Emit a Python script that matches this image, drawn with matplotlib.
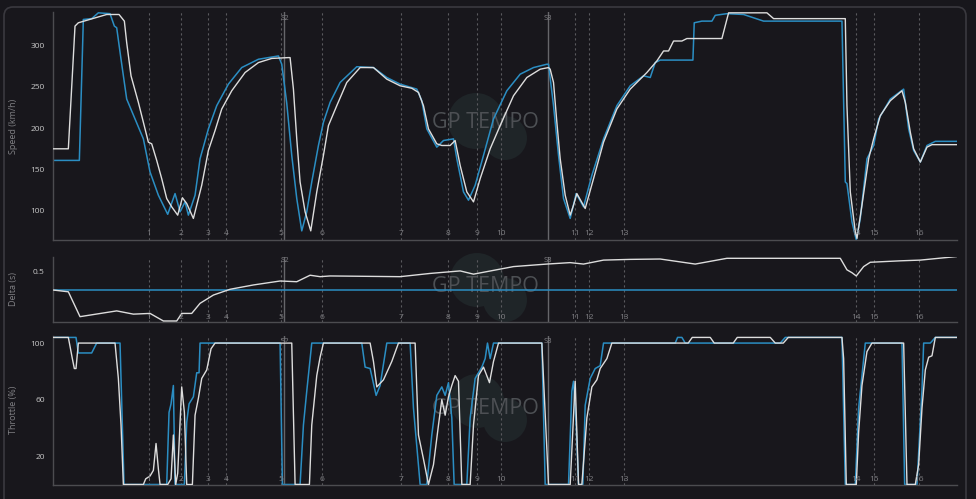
import matplotlib
matplotlib.use('Agg')
import matplotlib.pyplot as plt
import matplotlib.transforms as mtransforms
from matplotlib.patches import Circle, FancyBboxPatch

# ---- data (distance in metres) ----
# white trace = compared lap, blue trace = reference lap (delta = 0)
cmp_speed_dist = [0, 92, 132, 152, 322, 396, 428, 442, 468, 512, 552, 572, 592, 622, 652, 682,
                  712, 748, 776, 802, 842, 892, 932, 972, 1012, 1072, 1152, 1232, 1312, 1412,
                  1422, 1442, 1462, 1482, 1512, 1546, 1582, 1622, 1652, 1702, 1762, 1842, 1922,
                  2002, 2082, 2152, 2192, 2222, 2252, 2302, 2332, 2382, 2412, 2442, 2482, 2522,
                  2562, 2622, 2682, 2762, 2842, 2922, 2972, 2982, 3002, 3022, 3042, 3072, 3102,
                  3122, 3142, 3192, 3242, 3302, 3382, 3462, 3562, 3622, 3662, 3692, 3722, 3772,
                  3802, 4012, 4052, 4282, 4322, 4752, 4762, 4782, 4812, 4822, 4852, 4892, 4922,
                  4962, 5022, 5092, 5112, 5142, 5162, 5202, 5242, 5272, 5422]
cmp_speed = [175, 175, 323, 327, 337, 337, 329, 303, 263, 231, 199, 183, 181, 161, 139, 115,
             105, 95, 116, 109, 91, 131, 173, 197, 223, 245, 267, 279, 284, 285,
             285, 247, 187, 135, 99, 76, 123, 167, 203, 227, 255, 273, 273,
             259, 251, 248, 243, 227, 199, 181, 179, 179, 185, 155, 123, 111,
             139, 175, 203, 239, 261, 271, 273, 271, 255, 207, 163, 119, 95,
             107, 121, 103, 139, 183, 223, 247, 267, 281, 293, 293, 305, 305,
             308, 308, 339, 339, 332, 332, 227, 123, 75, 67, 107, 163, 187,
             215, 233, 245, 231, 195, 175, 159, 177, 180, 180]

ref_speed_dist = [0, 158, 182, 232, 272, 342, 368, 382, 408, 442, 492, 542, 582, 632, 688, 732,
                  762, 792, 812, 852, 882, 932, 982, 1052, 1132, 1232, 1352, 1372, 1402, 1432,
                  1462, 1492, 1522, 1552, 1592, 1622, 1662, 1722, 1822, 1922, 2002, 2082, 2182,
                  2212, 2242, 2302, 2342, 2402, 2422, 2462, 2492, 2532, 2582, 2642, 2722, 2802,
                  2882, 2962, 2972, 3002, 3032, 3062, 3102, 3138, 3182, 3232, 3302, 3382, 3462,
                  3542, 3582, 3612, 3642, 3838, 3846, 3892, 3952, 3972, 4042, 4142, 4262, 4732,
                  4752, 4762, 4792, 4818, 4842, 4882, 4922, 4952, 5022, 5102, 5132, 5162, 5202,
                  5242, 5292, 5422]
ref_speed = [161, 161, 331, 332, 339, 338, 323, 321, 283, 235, 211, 187, 147, 119, 96, 121,
             99, 111, 95, 119, 163, 199, 227, 253, 273, 283, 287, 277, 230, 167,
             115, 76, 99, 135, 179, 207, 231, 255, 274, 273, 261, 253, 247,
             233, 199, 177, 185, 187, 163, 123, 113, 131, 167, 211, 245, 265,
             273, 277, 277, 227, 167, 115, 91, 121, 105, 143, 187, 227, 251,
             263, 261, 279, 282, 282, 327, 329, 329, 336, 338, 337, 329, 329,
             135, 133, 87, 65, 91, 163, 179, 211, 235, 247, 199, 173, 159,
             179, 184, 184]

delta_dist = [0, 92, 162, 382, 482, 582, 662, 742, 772, 832, 882, 962, 1062, 1202, 1362, 1462,
              1542, 1602, 1662, 2082, 2262, 2442, 2522, 2602, 2762, 2962, 3102, 3182, 3302,
              3462, 3642, 3852, 4042, 4722, 4762, 4792, 4818, 4862, 4902, 5082, 5202, 5422]
delta = [0, -0.05, -0.74, -0.58, -0.67, -0.65, -0.86, -0.86, -0.65, -0.65, -0.37, -0.14, 0.02,
         0.14, 0.25, 0.23, 0.41, 0.37, 0.39, 0.37, 0.46, 0.53, 0.44, 0.51, 0.65, 0.72, 0.76,
         0.72, 0.83, 0.85, 0.86, 0.72, 0.88, 0.88, 0.56, 0.48, 0.39, 0.65, 0.77, 0.81, 0.83, 0.93]

cmp_thr_dist = [0, 92, 116, 128, 138, 152, 372, 392, 408, 422, 542, 556, 582, 602, 618, 632,
                642, 688, 708, 722, 736, 748, 772, 788, 802, 836, 852, 872, 892, 922, 948, 972,
                1432, 1452, 1538, 1552, 1582, 1602, 1622, 1902, 1922, 1942, 1982, 2032, 2072,
                2172, 2192, 2222, 2252, 2282, 2312, 2332, 2352, 2372, 2392, 2412, 2432, 2452,
                2502, 2522, 2552, 2582, 2618, 2642, 2672, 2932, 2972, 3102, 3132, 3152, 3172,
                3202, 3232, 3262, 3282, 3322, 3352, 3810, 3834, 3942, 3966, 4080, 4104, 4302,
                4332, 4380, 4410, 4732, 4742, 4758, 4818, 4832, 4852, 4882, 4912, 5102, 5122,
                5172, 5192, 5212, 5232, 5252, 5272, 5292, 5422]
cmp_thr = [104, 104, 89, 82, 82, 100, 100, 75, 42, 0, 0, 4, 6, 10, 29, 11,
           0, 0, 4, 35, 0, 8, 69, 51, 0, 0, 49, 61, 75, 81, 96, 100,
           100, 0, 0, 42, 77, 90, 100, 100, 87, 69, 74, 87, 100,
           100, 35, 18, 0, 14, 42, 60, 49, 62, 70, 77, 73, 0,
           0, 42, 77, 83, 72, 87, 100, 100, 0, 0, 73, 0, 0,
           47, 69, 74, 82, 89, 100, 100, 104, 104, 100, 100, 104, 104,
           100, 100, 104, 104, 89, 0, 0, 37, 70, 94, 100, 100, 0,
           0, 14, 54, 81, 90, 91, 104, 104]

ref_thr_dist = [0, 138, 152, 232, 262, 402, 426, 682, 696, 708, 722, 732, 788, 802, 816, 842,
                862, 876, 882, 1362, 1376, 1482, 1502, 1522, 1552, 1852, 1872, 1902, 1938, 1962,
                2002, 2142, 2162, 2202, 2242, 2272, 2302, 2332, 2352, 2372, 2392, 2406, 2482,
                2502, 2532, 2572, 2592, 2606, 2622, 2642, 2932, 2952, 3092, 3112, 3122, 3138,
                3152, 3178, 3192, 3222, 3252, 3282, 3302, 3732, 3746, 3772, 3792, 4362, 4392,
                4732, 4752, 4812, 4832, 4872, 5092, 5108, 5182, 5212, 5222, 5262, 5292, 5422]
ref_thr = [104, 104, 93, 93, 100, 100, 0, 0, 51, 57, 70, 0, 0, 44, 57, 62,
           79, 79, 100, 100, 0, 0, 42, 66, 100, 100, 83, 82, 63, 70,
           100, 100, 54, 0, 0, 35, 63, 69, 63, 72, 47, 0, 0,
           47, 75, 83, 89, 100, 89, 100, 100, 0, 0, 66, 73, 42,
           0, 0, 56, 75, 82, 84, 100, 100, 104, 104, 100, 100, 104,
           104, 0, 0, 54, 100, 100, 0, 0, 67, 100, 100, 104, 104]

corner_dist = [576, 768, 930, 1038, 1368, 1614, 2088, 2370, 2544, 2688, 3132, 3216, 3426,
               4818, 4926, 5196]
corner_labels = [str(i) for i in range(1, 17)]
sector_dist = [1388, 2968]
sector_labels = ['S2', 'S3']

# ---- style ----
BG = '#18171c'
WHITE = '#dddddd'
BLUE = '#2b8ec3'
LINE_GREY = '#5a5a5e'
TEXT_GREY = '#808084'
TICK_GREY = '#c9c9c9'

plt.rcParams['font.family'] = ['Open Sans', 'DejaVu Sans']

W, H = 976, 499
fig = plt.figure(figsize=(W / 100, H / 100), dpi=100, facecolor=BG)

# outer rounded frame
frame = FancyBboxPatch((4, -20), 962, 512, boxstyle='round,pad=0,rounding_size=9',
                       transform=mtransforms.IdentityTransform(), facecolor='none',
                       edgecolor='#3a393f', lw=1.2, zorder=-10)
fig.add_artist(frame)


def make_axes(top, bottom):
    ax = fig.add_axes([53 / W, (H - bottom) / H, 904 / W, (bottom - top) / H])
    ax.set_facecolor('none')
    for s in ['top', 'right']:
        ax.spines[s].set_visible(False)
    for s in ['left', 'bottom']:
        ax.spines[s].set_color('#4c4c50')
        ax.spines[s].set_linewidth(1.0)
    ax.set_xticks([])
    ax.tick_params(axis='y', length=0, pad=6, labelsize=6, labelcolor=TICK_GREY)
    ax.set_xlim(0, 5422)
    return ax


def watermark(text_y, c1, c2):
    for (cx, cy, r) in (c1, c2):
        fig.add_artist(Circle((cx, H - cy), r, transform=mtransforms.IdentityTransform(),
                              facecolor='#1f2528', edgecolor='none', zorder=-6))
    fig.text(485 / W, 1 - text_y / H, 'GP TEMPO', ha='center', va='center', fontsize=15.5,
             color='#4d5054', zorder=-5)


def markers(ax):
    tr = mtransforms.blended_transform_factory(ax.transData, ax.transAxes)
    for d, lab in zip(corner_dist, corner_labels):
        ax.axvline(d, color=LINE_GREY, lw=0.8, ls=(0, (2, 2.5)), zorder=1)
        ax.text(d, 0.012, lab, transform=tr, ha='center', va='bottom', fontsize=6,
                color=TEXT_GREY, zorder=4)
    for d, lab in zip(sector_dist, sector_labels):
        ax.axvline(d, color='#66666a', lw=1.0, zorder=1)
        ax.text(d, 0.985, lab, transform=tr, ha='center', va='top', fontsize=5.5,
                color=TEXT_GREY, zorder=4)


ax_speed = make_axes(12, 240)
ax_delta = make_axes(256.5, 321.7)
ax_thr = make_axes(336, 484.5)

watermark(123, (476, 121, 28), (505, 138, 22))
watermark(287, (477, 280, 27), (505, 300, 22))
watermark(408, (477, 401, 27), (505, 420, 22))

# speed
markers(ax_speed)
ax_speed.plot(ref_speed_dist, ref_speed, color=BLUE, lw=1.1, zorder=2)
ax_speed.plot(cmp_speed_dist, cmp_speed, color=WHITE, lw=1.0, zorder=3)
ax_speed.set_ylim(65, 340)
ax_speed.set_yticks([100, 150, 200, 250, 300])
ax_speed.set_ylabel('Speed (km/h)', color=TEXT_GREY, fontsize=6.5)
ax_speed.yaxis.set_label_coords(-0.039, 0.5)

# delta
markers(ax_delta)
ax_delta.axhline(0, color=BLUE, lw=1.1, zorder=2)
ax_delta.plot(delta_dist, delta, color=WHITE, lw=1.0, zorder=3)
ax_delta.set_ylim(-0.88, 0.93)
ax_delta.set_yticks([0.5])
ax_delta.set_ylabel('Delta (s)', color=TEXT_GREY, fontsize=6.5)
ax_delta.yaxis.set_label_coords(-0.039, 0.5)

# throttle
markers(ax_thr)
ax_thr.plot(ref_thr_dist, ref_thr, color=BLUE, lw=1.1, zorder=2)
ax_thr.plot(cmp_thr_dist, cmp_thr, color=WHITE, lw=1.0, zorder=3)
ax_thr.set_ylim(0, 105)
ax_thr.set_yticks([20, 60, 100])
ax_thr.set_ylabel('Throttle (%)', color=TEXT_GREY, fontsize=6.5)
ax_thr.yaxis.set_label_coords(-0.039, 0.5)

fig.savefig('out.png', dpi=100, facecolor=BG)
